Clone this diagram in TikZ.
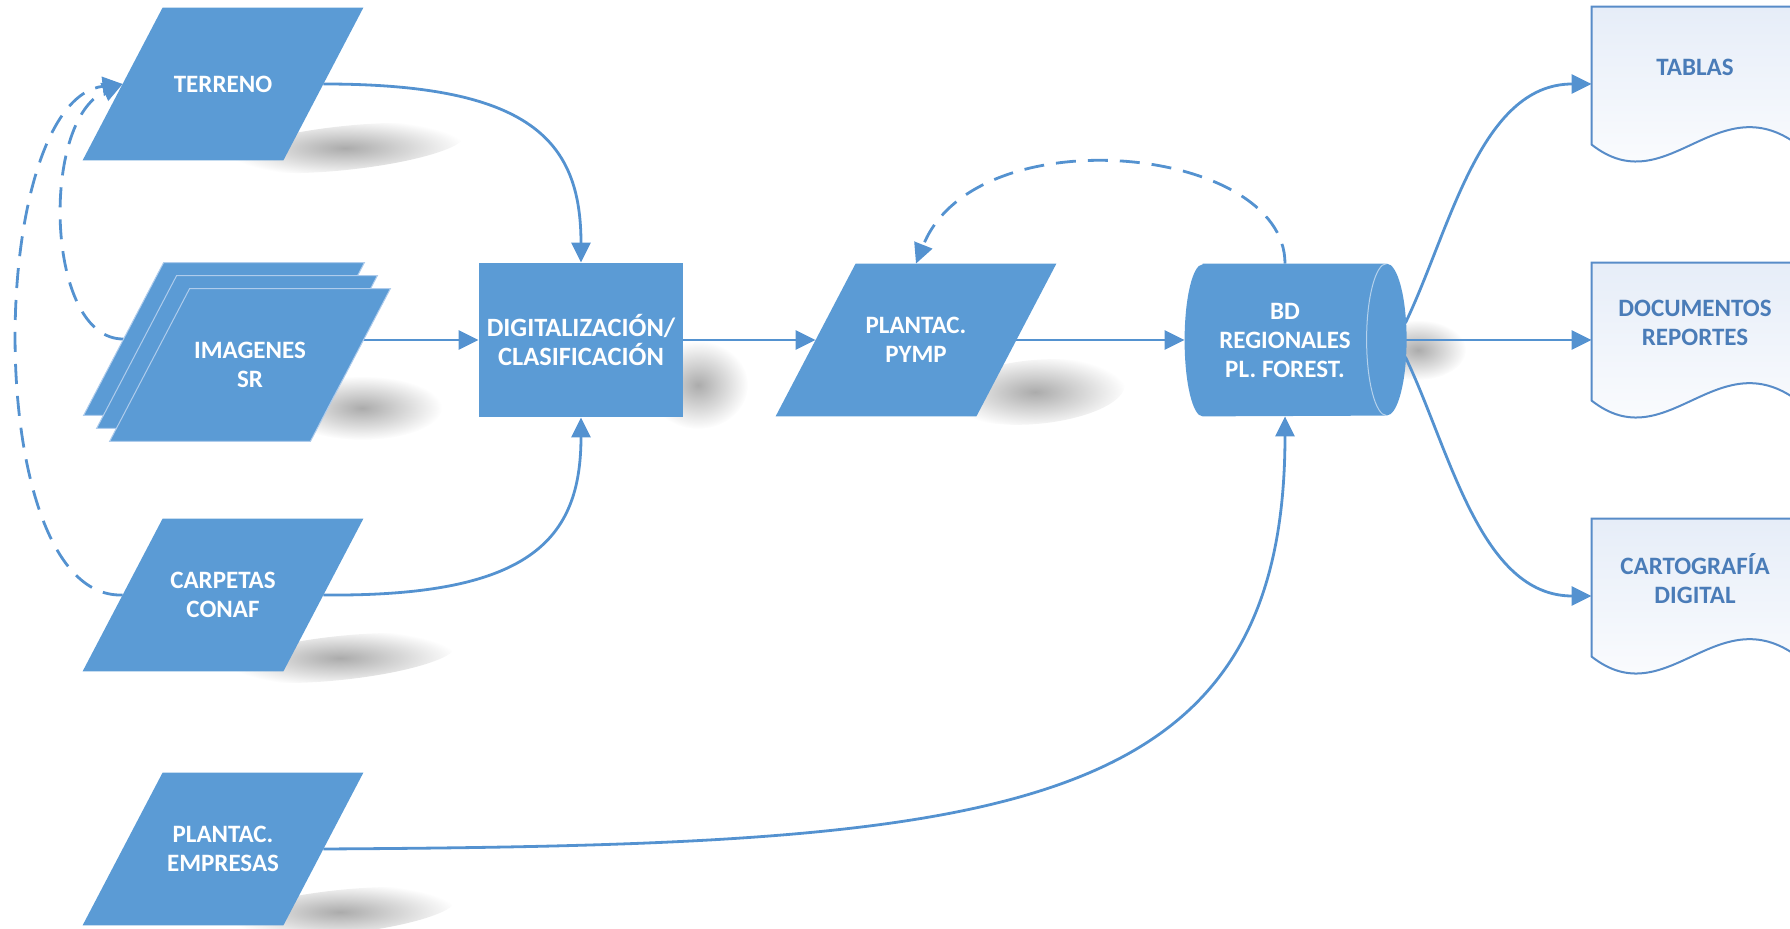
\documentclass[tikz,border=0pt]{standalone}
\usepackage{fontspec}
\setmainfont{Carlito}
\usetikzlibrary{arrows.meta, fadings}
\definecolor{mainblue}{RGB}{91,155,213}
\definecolor{connblue}{RGB}{84,146,208}
\definecolor{doctextc}{RGB}{74,124,184}
\definecolor{doclinec}{RGB}{88,140,200}
\definecolor{doctopc}{RGB}{230,237,248}
\definecolor{layeredge}{RGB}{175,204,236}
\tikzfading[name=softshade, inner color=transparent!0, outer color=transparent!100]
\pgfdeclarelayer{shadowlayer}
\pgfdeclarelayer{connlayer}
\pgfdeclarelayer{shapelayer}
\pgfsetlayers{shadowlayer,connlayer,shapelayer,main}
\newcommand{\lblfont}{\fontsize{12.5}{14.5}\selectfont\bfseries}
\newcommand{\digfont}{\fontsize{13.2}{14.5}\selectfont\bfseries}
\newcommand{\parashape}[2][]{%
  \path[fill=mainblue,#1] ([xshift=20pt]#2.north west) -- ([xshift=20pt]#2.north east)
    -- ([xshift=-20pt]#2.south east) -- ([xshift=-20pt]#2.south west) -- cycle;}
\newcommand{\docpath}[1]{%
  \path[top color=doctopc, bottom color=white, draw=doclinec, line width=1pt]
    ([shift={(0,0)}]#1.north west) -- ([shift={(206,0)}]#1.north west)
    -- ([shift={(206,138)}]#1.north west)
    .. controls ([shift={(125,78)}]#1.north west) and ([shift={(75,197)}]#1.north west)
    .. ([shift={(0,138)}]#1.north west) -- cycle;}
\begin{document}
\begin{tikzpicture}[x=0.5pt, y=-0.5pt,
  para/.style={rectangle, minimum width=100pt, minimum height=76pt,
    inner sep=0pt, text=white, font=\lblfont, align=center},
  procbox/.style={rectangle, minimum width=102pt, minimum height=77pt, inner sep=0pt,
    fill=mainblue, text=white, font=\digfont, align=center},
  dbtext/.style={rectangle, minimum width=100pt, minimum height=76pt, inner sep=0pt,
    text=white, font=\lblfont, align=center},
  docbox/.style={rectangle, minimum width=103pt, minimum height=77pt, inner sep=0pt},
  doclabel/.style={text=doctextc, font=\lblfont, align=center},
  conn/.style={draw=connblue, line width=1.4pt, -{Triangle[length=10pt,width=9.5pt]}},
  dashconn/.style={conn, dash pattern=on 10pt off 6pt},
  shade/.style={fill=black, opacity=0.33, path fading=softshade}]
\useasboundingbox (0,0) rectangle (1790,929);

% ---------- nodes ----------
\node[para] (terreno) at (223,84) {TERRENO};
\node[para] (imgC) at (224,339) {};
\node[para] (imgB) at (237,352) {};
\node[para] (imgA) at (250,365) {IMAGENES\\SR};
\node[para] (carpetas) at (223,595) {CARPETAS\\CONAF};
\node[para] (empresas) at (223,849) {PLANTAC.\\EMPRESAS};
\node[procbox] (dig) at (581,340) {DIGITALIZACIÓN/\\CLASIFICACIÓN};
\node[para] (pymp) at (916,340) {PLANTAC.\\PYMP};
\node[dbtext] (bd) at (1285,340) {BD\\REGIONALES\\PL. FOREST.};

% ---------- shape bodies ----------
\begin{pgfonlayer}{shapelayer}
\parashape{terreno}
\parashape[draw=layeredge, line width=0.5pt]{imgC}
\parashape[draw=layeredge, line width=0.5pt]{imgB}
\parashape[draw=layeredge, line width=0.5pt]{imgA}
\parashape{carpetas}
\parashape{empresas}
\parashape{pymp}
% cylinder
\path[fill=mainblue] ([xshift=9pt]bd.north west) -- ([xshift=101pt]bd.north west)
   arc[start angle=90, end angle=-90, x radius=10pt, y radius=38pt]
   -- ([xshift=9pt]bd.south west)
   arc[start angle=270, end angle=90, x radius=9pt, y radius=38pt] -- cycle;
\draw[white, opacity=0.55, line width=0.5pt] ([xshift=101pt]bd.north west)
   arc[start angle=90, end angle=270, x radius=10pt, y radius=38pt];
\end{pgfonlayer}

% documents
\node[docbox] (tablas) at (1695,84) {};
\docpath{tablas}
\node[doclabel] (tablasT) at ([yshift=8.5pt]tablas.center) {TABLAS};
\node[docbox] (docs) at (1695,340) {};
\docpath{docs}
\node[doclabel] (docsT) at ([yshift=8.5pt]docs.center) {DOCUMENTOS\\REPORTES};
\node[docbox] (carto) at (1695,596) {};
\docpath{carto}
\node[doclabel] (cartoT) at ([yshift=8.5pt]carto.center) {CARTOGRAFÍA\\DIGITAL};

% ---------- shadows ----------
\begin{pgfonlayer}{shadowlayer}
\fill[shade, rotate around={6:(345,148)}] (345,148) ellipse[x radius=60pt, y radius=11pt];
\fill[shade] (362,408) ellipse[x radius=40pt, y radius=16pt];
\fill[shade, rotate around={6:(340,658)}] (340,658) ellipse[x radius=58pt, y radius=11pt];
\fill[shade, rotate around={6:(340,912)}] (340,912) ellipse[x radius=58pt, y radius=11pt];
\fill[shade] (698,385) ellipse[x radius=25pt, y radius=22pt];
\fill[shade, rotate around={5:(1035,392)}] (1035,392) ellipse[x radius=45pt, y radius=16pt];
\fill[shade] (1418,350) ellipse[x radius=24pt, y radius=15pt];
\end{pgfonlayer}

% ---------- connectors ----------
\begin{pgfonlayer}{connlayer}
\draw[conn] (terreno.east) .. controls (530,84) and (581,140) .. (dig.north);
\draw[conn] ([yshift=12.5pt]imgA.east) -- (dig.west);
\draw[conn] (carpetas.east) .. controls (530,597) and (581,540) .. (dig.south);
\draw[conn] (dig.east) -- (pymp.west);
\draw[conn] (pymp.east) -- (bd.west);
\draw[conn] (empresas.east) .. controls (1000,845) and (1285,820) .. (bd.south);
\draw[dashconn] (bd.north) .. controls (1285,145) and (975,115) .. (pymp.north);
\draw[conn] ([shift={(20,-17)}]bd.east) .. controls (1450,230) and (1480,84) .. (tablas.west);
\draw[conn] (bd.east) -- (docs.west);
\draw[conn] ([shift={(20,17)}]bd.east) .. controls (1450,450) and (1480,596) .. (carto.west);
\draw[dashconn] (imgC.west) .. controls (45,340) and (40,120) .. (terreno.west);
\draw[dashconn] (carpetas.west) .. controls (-20,600) and (-15,100) .. (terreno.west);
\end{pgfonlayer}
\end{tikzpicture}
\end{document}
